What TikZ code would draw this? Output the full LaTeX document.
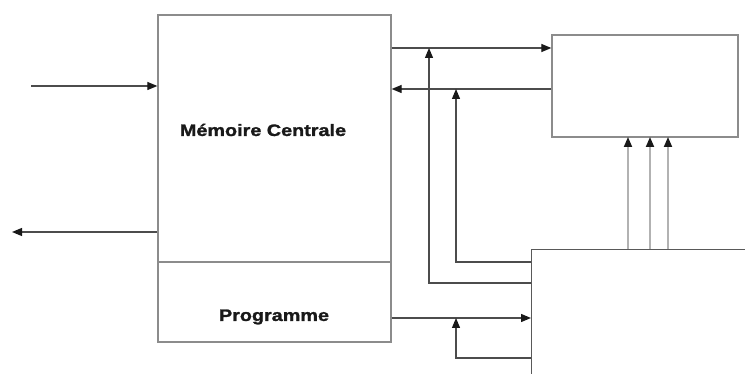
\documentclass[tikz,border=0pt]{standalone}
\usepackage{fontspec}
\setmainfont{Liberation Sans}
\newfontfamily\lblfont[FakeStretch=1.2,FakeBold=1.5]{Liberation Sans}
\usetikzlibrary{arrows.meta}
\begin{document}
\begin{tikzpicture}[x=1pt,y=-1pt,
  boxst/.style={draw=black!45,line width=1.3pt,rectangle,inner sep=0pt},
  wire/.style={draw=black!70,line width=1.2pt},
  arr/.style={wire,-{Triangle[length=10pt,width=8pt,color=black!90]}},
  lwire/.style={draw=black!30,line width=1.8pt,-{Triangle[length=10pt,width=8pt,color=black!90]}},
  lbl/.style={font=\lblfont\bfseries\fontsize{16.5}{18}\selectfont,text=black!90}]
\clip (0,0) rectangle (745,374);
\fill[white] (0,0) rectangle (745,374);
% boxes
\node[boxst,minimum width=233pt,minimum height=247pt] (mem) at (274.5,138.5) {};
\node[boxst,minimum width=233pt,minimum height=80pt] (prog) at (274.5,302) {};
\node[boxst,minimum width=186pt,minimum height=102pt] (top) at (645,86) {};
\node[boxst,draw=black!65,minimum width=300pt,minimum height=200pt,anchor=north west] (bot) at (531,249) {};
% labels
\node[lbl] (memlbl) at (263,130) {Mémoire Centrale};
\node[lbl] (proglbl) at (274,317) {Programme};
% coordinates
\coordinate (inL) at (31,86);
\coordinate (outL) at (12,232);
\coordinate (y48) at (0,48);
\coordinate (y89) at (0,89);
\coordinate (y318) at (0,318);
\coordinate (ca) at (429,283);
\coordinate (cb) at (456,262);
\coordinate (cc) at (456,358);
% left arrows
\draw[arr] (inL) -- (inL -| mem.west);
\draw[arr] (outL -| mem.west) -- (outL);
% memory <-> top box
\draw[arr] (mem.east |- y48) -- (top.west |- y48);
\draw[arr] (top.west |- y89) -- (mem.east |- y89);
% from bottom box to buses
\draw[arr] (bot.west |- ca) -- (ca) -- (ca |- y48);
\draw[arr] (bot.west |- cb) -- (cb) -- (cb |- y89);
% programme to bottom box
\draw[arr] (prog.east |- y318) -- (bot.west |- y318);
\draw[arr] (bot.west |- cc) -- (cc) -- (cc |- y318);
% vertical arrows to top box
\foreach \xx in {628,650,668}{
  \draw[lwire] (\xx,249) -- (\xx,137);
}
\end{tikzpicture}
\end{document}
